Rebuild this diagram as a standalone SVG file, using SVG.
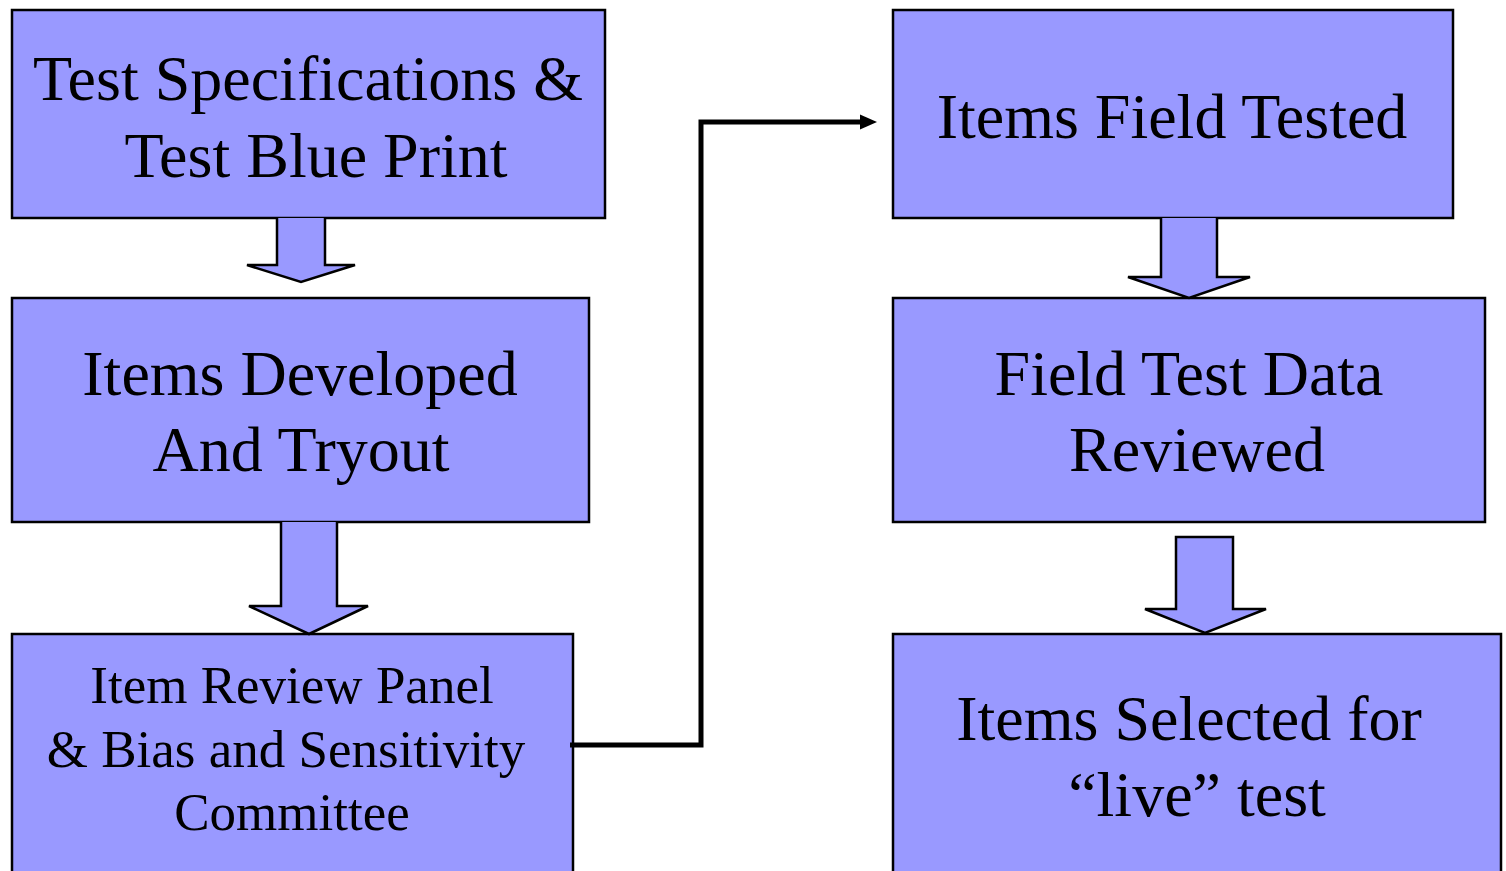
<svg xmlns="http://www.w3.org/2000/svg" width="1506" height="871" viewBox="0 0 1506 871">
<style>
.box{fill:#9999FF;stroke:#000;stroke-width:2.5}
.blk{fill:#9999FF;stroke:#000;stroke-width:2.5;stroke-linejoin:miter}
.t{font-family:"Liberation Serif","Times New Roman",serif;font-size:64px;fill:#000;text-anchor:middle}
.s{font-family:"Liberation Serif","Times New Roman",serif;font-size:53px;fill:#000;text-anchor:middle}
.conn{fill:none;stroke:#000;stroke-width:5}
</style>
<defs>
<marker id="ah" markerWidth="4" markerHeight="4" refX="0" refY="1.5" orient="auto" markerUnits="strokeWidth" viewBox="0 0 4 3">
<path d="M0,0 L3.4,1.5 L0,3 Z" fill="#000"/>
</marker>
</defs>
<rect width="1506" height="871" fill="#fff"/>
<g id="n1">
<rect class="box" x="12" y="10" width="593" height="208"/>
<text class="t" x="308" y="100">Test Specifications &amp;</text>
<text class="t" x="316" y="177">Test Blue Print</text>
</g>
<g id="n2">
<rect class="box" x="12" y="298" width="577" height="224"/>
<text class="t" x="300" y="395">Items Developed</text>
<text class="t" x="301" y="471">And Tryout</text>
</g>
<g id="n3">
<rect class="box" x="12" y="634" width="561" height="250"/>
<text class="s" x="292" y="703">Item Review Panel</text>
<text class="s" x="286" y="767">&amp; Bias and Sensitivity</text>
<text class="s" x="292" y="830">Committee</text>
</g>
<g id="n4">
<rect class="box" x="893" y="10" width="560" height="208"/>
<text class="t" x="1172" y="138">Items Field Tested</text>
</g>
<g id="n5">
<rect class="box" x="893" y="298" width="592" height="224"/>
<text class="t" x="1189" y="395">Field Test Data</text>
<text class="t" x="1197" y="471">Reviewed</text>
</g>
<g id="n6">
<rect class="box" x="893" y="634" width="608" height="250"/>
<text class="t" x="1189" y="740">Items Selected for</text>
<text class="t" x="1197" y="816">“live” test</text>
</g>
<g id="connectors">
<path class="blk" d="M277,218 L277,265 L247,265 L301,282 L355,265 L325,265 L325,218"/>
<path class="blk" d="M281,522 L281,606 L249,606 L309,634 L368,606 L337,606 L337,522"/>
<path class="blk" d="M1161,218 L1161,277 L1128,277 L1189,298 L1250,277 L1217,277 L1217,218"/>
<path class="blk" d="M1176,537 L1176,609 L1145,609 L1205,633 L1266,609 L1233,609 L1233,537 Z"/>
<path class="conn" d="M570,745 L701,745 L701,122 L860,122" marker-end="url(#ah)"/>
</g>
</svg>
